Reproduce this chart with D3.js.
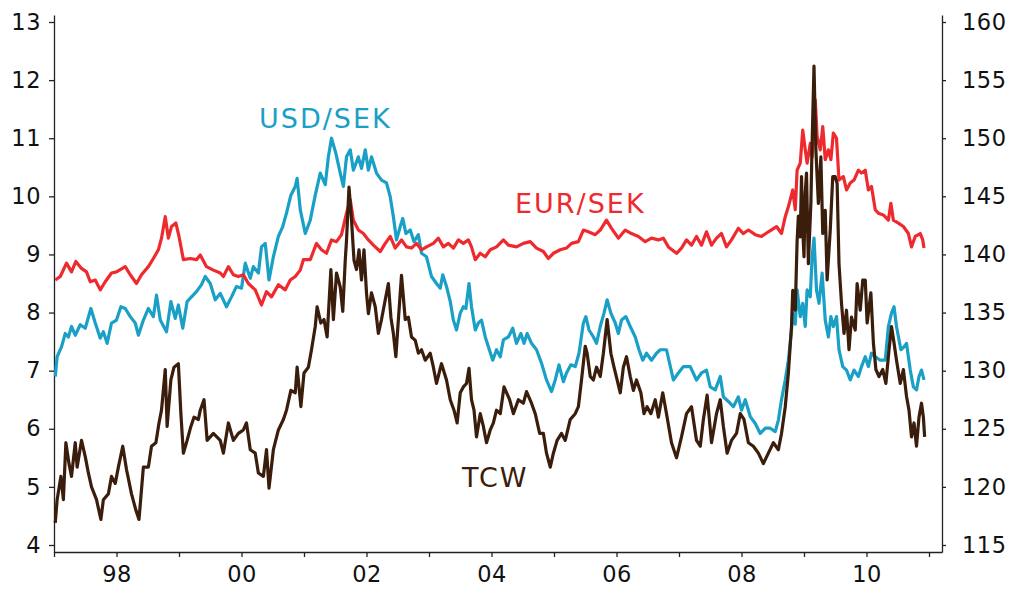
<!DOCTYPE html>
<html>

<head>
  <meta charset="utf-8">
  <title>sek-chart</title>
  <style>
    * {
      padding: 0;
      margin: 0;
    }

    body {
      background: #fff;
    }

    svg text {
      font-family: "DejaVu Sans", sans-serif;
    }

    .axis text {
      font-size: 22.5px;
      letter-spacing: 0.5px;
      fill: #111;
    }

    .axis path,
    .axis line {
      stroke: #222;
      stroke-width: 1.3;
    }

    .series {
      fill: none;
      stroke-width: 3.2;
      stroke-linejoin: round;
    }
  </style>
</head>

<body>
  <svg id="svg"></svg>
  <script src="https://cdnjs.cloudflare.com/ajax/libs/d3/7.8.5/d3.min.js"></script>
  <script>
    // [decimal year, value]  -- USD/SEK and EUR/SEK on left axis, TCW on right axis
    const eurSek = [[1997.02,8.56],[1997.10,8.62],[1997.20,8.85],[1997.28,8.70],[1997.35,8.88],[1997.44,8.76],[1997.52,8.70],[1997.58,8.53],[1997.66,8.56],[1997.74,8.39],[1997.82,8.53],[1997.92,8.68],[1998.00,8.70],[1998.14,8.79],[1998.22,8.65],[1998.32,8.50],[1998.40,8.65],[1998.51,8.79],[1998.59,8.93],[1998.67,9.08],[1998.72,9.28],[1998.78,9.65],[1998.83,9.28],[1998.88,9.48],[1998.95,9.54],[1999.00,9.31],[1999.07,8.91],[1999.18,8.93],[1999.28,8.91],[1999.34,8.99],[1999.44,8.79],[1999.55,8.73],[1999.66,8.68],[1999.71,8.62],[1999.79,8.79],[1999.87,8.65],[1999.95,8.62],[2000.03,8.65],[2000.11,8.50],[2000.22,8.39],[2000.32,8.13],[2000.40,8.36],[2000.48,8.27],[2000.59,8.48],[2000.70,8.39],[2000.78,8.56],[2000.86,8.62],[2000.94,8.73],[2000.99,8.91],[2001.10,8.91],[2001.20,9.19],[2001.28,9.08],[2001.36,9.02],[2001.44,9.25],[2001.52,9.22],[2001.60,9.34],[2001.68,9.71],[2001.74,9.94],[2001.79,9.59],[2001.87,9.42],[2001.95,9.36],[2002.03,9.25],[2002.11,9.16],[2002.22,9.05],[2002.30,9.19],[2002.38,9.31],[2002.46,9.11],[2002.56,9.25],[2002.64,9.13],[2002.72,9.11],[2002.80,9.19],[2002.88,9.08],[2002.96,9.13],[2003.07,9.19],[2003.15,9.28],[2003.23,9.13],[2003.31,9.19],[2003.39,9.11],[2003.47,9.25],[2003.55,9.19],[2003.63,9.25],[2003.68,9.13],[2003.74,8.91],[2003.82,9.02],[2003.90,8.96],[2003.98,9.08],[2004.08,9.13],[2004.19,9.25],[2004.27,9.16],[2004.40,9.13],[2004.51,9.19],[2004.62,9.22],[2004.72,9.11],[2004.83,9.05],[2004.91,8.93],[2004.99,9.02],[2005.10,9.08],[2005.20,9.11],[2005.28,9.19],[2005.39,9.22],[2005.47,9.42],[2005.55,9.39],[2005.66,9.34],[2005.74,9.42],[2005.84,9.59],[2005.92,9.45],[2006.03,9.28],[2006.14,9.42],[2006.24,9.36],[2006.35,9.31],[2006.46,9.22],[2006.56,9.28],[2006.67,9.25],[2006.75,9.28],[2006.83,9.13],[2006.96,9.02],[2007.04,9.11],[2007.12,9.25],[2007.20,9.16],[2007.28,9.31],[2007.36,9.16],[2007.44,9.39],[2007.52,9.16],[2007.60,9.28],[2007.68,9.36],[2007.76,9.13],[2007.84,9.25],[2007.95,9.45],[2008.03,9.36],[2008.11,9.42],[2008.22,9.34],[2008.32,9.31],[2008.43,9.39],[2008.56,9.48],[2008.64,9.36],[2008.70,9.65],[2008.75,9.82],[2008.82,10.11],[2008.86,9.77],[2008.89,10.45],[2008.94,10.57],[2008.98,11.14],[2009.02,10.80],[2009.05,10.57],[2009.10,10.91],[2009.13,10.68],[2009.18,11.66],[2009.21,11.03],[2009.26,10.80],[2009.30,11.20],[2009.34,10.63],[2009.39,10.80],[2009.43,10.63],[2009.47,11.09],[2009.52,11.00],[2009.56,10.28],[2009.63,10.34],[2009.68,10.11],[2009.74,10.23],[2009.80,10.28],[2009.87,10.45],[2009.92,10.40],[2009.98,10.45],[2010.03,10.11],[2010.08,10.17],[2010.14,9.77],[2010.19,9.71],[2010.27,9.68],[2010.35,9.59],[2010.39,9.88],[2010.43,9.59],[2010.51,9.54],[2010.59,9.48],[2010.67,9.36],[2010.72,9.13],[2010.78,9.31],[2010.86,9.36],[2010.90,9.25],[2010.92,9.11]];

    const usdSek = [[1997.02,6.90],[1997.05,7.24],[1997.12,7.41],[1997.18,7.64],[1997.23,7.58],[1997.28,7.76],[1997.34,7.61],[1997.42,7.79],[1997.50,7.73],[1997.59,8.07],[1997.66,7.82],[1997.74,7.56],[1997.79,7.67],[1997.85,7.47],[1997.92,7.82],[1998.00,7.87],[1998.07,8.10],[1998.14,8.07],[1998.22,7.93],[1998.30,7.82],[1998.35,7.61],[1998.43,7.87],[1998.51,8.07],[1998.59,7.93],[1998.64,8.30],[1998.70,7.87],[1998.80,7.67],[1998.87,8.19],[1998.94,7.90],[1998.99,8.13],[1999.06,7.73],[1999.13,8.19],[1999.20,8.27],[1999.28,8.36],[1999.36,8.48],[1999.42,8.62],[1999.50,8.50],[1999.58,8.22],[1999.66,8.33],[1999.76,8.10],[1999.84,8.27],[1999.92,8.45],[2000.00,8.42],[2000.06,8.85],[2000.14,8.59],[2000.19,8.79],[2000.27,8.68],[2000.32,9.13],[2000.38,9.19],[2000.44,8.56],[2000.51,8.96],[2000.59,9.31],[2000.66,9.48],[2000.72,9.71],[2000.79,10.02],[2000.86,10.17],[2000.89,10.31],[2000.94,9.77],[2001.02,9.36],[2001.10,9.59],[2001.18,10.02],[2001.26,10.40],[2001.34,10.20],[2001.39,10.68],[2001.44,11.00],[2001.51,10.74],[2001.58,10.40],[2001.63,10.17],[2001.68,10.68],[2001.74,10.80],[2001.79,10.45],[2001.87,10.68],[2001.92,10.48],[2001.98,10.80],[2002.03,10.45],[2002.08,10.68],[2002.16,10.40],[2002.24,10.28],[2002.32,10.23],[2002.38,9.99],[2002.43,9.65],[2002.48,9.25],[2002.54,9.48],[2002.58,9.62],[2002.63,9.36],[2002.70,9.42],[2002.76,9.22],[2002.83,9.34],[2002.88,9.02],[2002.96,8.96],[2003.04,8.62],[2003.12,8.50],[2003.18,8.42],[2003.22,8.65],[2003.28,8.45],[2003.34,8.19],[2003.39,7.87],[2003.44,7.70],[2003.50,7.99],[2003.55,8.10],[2003.59,8.07],[2003.64,8.50],[2003.68,8.10],[2003.74,7.70],[2003.79,7.82],[2003.84,7.87],[2003.90,7.58],[2003.95,7.41],[2004.02,7.18],[2004.08,7.36],[2004.14,7.24],[2004.19,7.53],[2004.27,7.58],[2004.34,7.73],[2004.40,7.47],[2004.47,7.64],[2004.52,7.47],[2004.57,7.64],[2004.64,7.47],[2004.72,7.36],[2004.80,7.13],[2004.88,6.84],[2004.96,6.64],[2005.02,6.84],[2005.08,7.10],[2005.15,6.81],[2005.20,6.96],[2005.27,7.10],[2005.34,7.07],[2005.40,7.30],[2005.47,7.82],[2005.51,7.93],[2005.56,7.70],[2005.63,7.58],[2005.68,7.47],[2005.74,7.76],[2005.80,7.99],[2005.85,8.22],[2005.91,7.99],[2005.98,7.82],[2006.03,7.64],[2006.08,7.87],[2006.15,7.93],[2006.22,7.76],[2006.30,7.58],[2006.36,7.36],[2006.42,7.18],[2006.48,7.30],[2006.56,7.18],[2006.64,7.30],[2006.70,7.36],[2006.80,7.36],[2006.91,6.84],[2006.99,6.96],[2007.07,7.07],[2007.18,7.07],[2007.28,6.84],[2007.36,6.96],[2007.44,7.01],[2007.50,6.72],[2007.58,6.67],[2007.66,6.90],[2007.71,6.55],[2007.79,6.47],[2007.87,6.38],[2007.95,6.55],[2008.00,6.32],[2008.06,6.50],[2008.14,6.21],[2008.22,6.09],[2008.30,5.92],[2008.38,6.01],[2008.46,6.01],[2008.54,5.95],[2008.59,6.15],[2008.64,6.50],[2008.70,6.84],[2008.75,7.18],[2008.80,7.70],[2008.82,7.99],[2008.86,7.80],[2008.89,8.39],[2008.94,7.93],[2008.98,8.16],[2009.02,7.76],[2009.05,8.39],[2009.10,8.27],[2009.13,8.96],[2009.16,9.28],[2009.20,8.39],[2009.24,8.16],[2009.29,8.68],[2009.34,7.87],[2009.39,7.58],[2009.43,7.93],[2009.47,7.76],[2009.52,7.93],[2009.56,7.36],[2009.62,7.07],[2009.68,7.01],[2009.74,6.84],[2009.80,7.01],[2009.87,6.90],[2009.92,7.07],[2009.98,7.24],[2010.03,7.07],[2010.08,7.30],[2010.14,7.24],[2010.22,7.18],[2010.30,7.18],[2010.35,7.76],[2010.40,7.99],[2010.44,8.10],[2010.48,7.76],[2010.55,7.36],[2010.60,7.41],[2010.64,7.47],[2010.70,7.01],[2010.75,6.72],[2010.80,6.67],[2010.84,6.90],[2010.88,7.01],[2010.92,6.84]];

    const tcw = [[1997.02,116.9],[1997.05,118.9],[1997.11,120.9],[1997.15,118.9],[1997.19,123.8],[1997.24,122.0],[1997.28,120.9],[1997.34,123.8],[1997.37,121.7],[1997.44,124.0],[1997.50,122.6],[1997.55,121.2],[1997.60,120.0],[1997.68,118.9],[1997.75,117.2],[1997.79,118.9],[1997.87,119.4],[1997.92,120.9],[1997.98,120.3],[1998.03,121.7],[1998.10,123.5],[1998.16,121.5],[1998.24,119.4],[1998.31,118.0],[1998.36,117.2],[1998.43,121.7],[1998.51,121.7],[1998.56,123.5],[1998.63,123.8],[1998.68,125.5],[1998.72,126.6],[1998.78,130.1],[1998.81,125.2],[1998.87,129.2],[1998.92,130.3],[1998.99,130.6],[1999.03,126.3],[1999.07,122.9],[1999.13,124.0],[1999.19,125.2],[1999.24,126.0],[1999.31,125.8],[1999.34,126.6],[1999.40,127.5],[1999.45,124.0],[1999.55,124.6],[1999.66,124.0],[1999.71,122.9],[1999.79,125.5],[1999.87,124.0],[1999.95,124.6],[2000.03,124.9],[2000.08,125.5],[2000.14,123.2],[2000.22,122.9],[2000.27,121.2],[2000.35,120.9],[2000.40,123.2],[2000.44,119.9],[2000.51,123.2],[2000.59,124.9],[2000.67,125.8],[2000.72,126.6],[2000.79,128.3],[2000.86,128.1],[2000.89,130.3],[2000.95,126.9],[2001.00,129.8],[2001.07,130.3],[2001.12,131.8],[2001.18,133.8],[2001.21,135.5],[2001.27,134.1],[2001.32,134.4],[2001.37,132.9],[2001.43,138.7],[2001.47,134.4],[2001.52,138.4],[2001.58,137.2],[2001.62,135.1],[2001.66,139.5],[2001.68,141.2],[2001.72,145.8],[2001.76,143.0],[2001.80,139.5],[2001.84,138.7],[2001.88,140.4],[2001.92,137.8],[2001.96,140.4],[2002.00,136.7],[2002.03,134.9],[2002.08,136.7],[2002.14,135.5],[2002.19,133.2],[2002.24,134.4],[2002.30,136.1],[2002.35,137.5],[2002.39,134.6],[2002.43,133.2],[2002.47,131.2],[2002.51,134.4],[2002.56,138.2],[2002.62,134.4],[2002.67,134.6],[2002.72,132.9],[2002.78,132.6],[2002.83,131.5],[2002.88,131.8],[2002.94,130.9],[2003.02,131.5],[2003.07,130.3],[2003.12,128.9],[2003.20,130.6],[2003.28,129.2],[2003.34,127.5],[2003.40,126.6],[2003.45,125.5],[2003.50,128.1],[2003.55,128.6],[2003.60,128.9],[2003.64,130.2],[2003.68,127.5],[2003.72,126.6],[2003.76,124.3],[2003.82,126.3],[2003.87,125.2],[2003.92,123.8],[2003.98,124.9],[2004.03,125.5],[2004.08,126.6],[2004.14,126.3],[2004.20,128.6],[2004.29,127.5],[2004.35,126.3],[2004.43,127.5],[2004.51,127.2],[2004.56,128.2],[2004.64,127.2],[2004.70,126.3],[2004.77,124.6],[2004.83,124.6],[2004.88,122.9],[2004.94,121.7],[2004.99,122.9],[2005.05,124.0],[2005.12,124.6],[2005.18,124.0],[2005.26,125.8],[2005.34,126.3],[2005.39,126.9],[2005.44,129.2],[2005.50,132.1],[2005.53,131.5],[2005.58,129.5],[2005.63,129.2],[2005.68,130.3],[2005.74,129.5],[2005.79,131.5],[2005.85,134.4],[2005.91,131.5],[2005.96,130.3],[2006.01,129.2],[2006.06,128.1],[2006.11,130.3],[2006.16,131.2],[2006.22,129.5],[2006.27,128.3],[2006.32,129.2],[2006.39,128.1],[2006.44,126.3],[2006.49,126.9],[2006.55,126.3],[2006.62,127.5],[2006.67,126.0],[2006.74,128.1],[2006.80,126.3],[2006.88,123.8],[2006.96,122.5],[2007.04,124.3],[2007.12,126.3],[2007.20,126.9],[2007.28,124.0],[2007.34,123.5],[2007.39,125.8],[2007.45,127.9],[2007.52,123.8],[2007.60,126.3],[2007.66,127.5],[2007.71,125.2],[2007.77,122.9],[2007.84,124.0],[2007.92,124.6],[2007.98,126.3],[2008.04,125.8],[2008.11,123.8],[2008.19,123.5],[2008.27,122.9],[2008.35,122.0],[2008.43,122.9],[2008.51,123.8],[2008.59,123.2],[2008.64,124.6],[2008.70,126.9],[2008.75,129.8],[2008.80,133.8],[2008.82,136.9],[2008.86,135.2],[2008.88,139.2],[2008.89,141.2],[2008.91,143.3],[2008.94,141.5],[2008.96,146.7],[2008.98,142.1],[2009.00,139.8],[2009.02,145.3],[2009.04,147.0],[2009.07,139.2],[2009.11,144.4],[2009.13,149.6],[2009.16,156.2],[2009.19,149.0],[2009.23,144.4],[2009.27,148.4],[2009.30,141.8],[2009.34,143.8],[2009.37,137.8],[2009.42,142.1],[2009.46,146.7],[2009.50,146.7],[2009.53,146.1],[2009.56,139.2],[2009.60,135.8],[2009.64,133.2],[2009.68,135.2],[2009.72,131.8],[2009.76,134.6],[2009.82,133.5],[2009.85,137.5],[2009.90,135.2],[2009.94,137.8],[2009.98,137.8],[2010.01,134.1],[2010.07,136.7],[2010.11,132.4],[2010.15,130.1],[2010.20,129.5],[2010.26,130.1],[2010.31,128.9],[2010.36,131.8],[2010.40,133.8],[2010.44,132.4],[2010.48,130.9],[2010.54,128.9],[2010.59,130.1],[2010.64,127.8],[2010.68,126.6],[2010.72,124.3],[2010.76,125.5],[2010.80,123.5],[2010.84,126.0],[2010.88,127.2],[2010.91,126.0],[2010.93,124.3]];

    const years = d3.range(1997, 2012);
    const yearLabels = [1998, 2000, 2002, 2004, 2006, 2008, 2010];
    const leftTicks = d3.range(4, 14);
    const rightTicks = d3.range(115, 161, 5);

    const dimension = {
      width: 1013,
      height: 594,
      margin: { top: 15, right: 71, bottom: 42, left: 54 }
    }

    const svg = d3.select('#svg').attr('width', dimension.width).attr('height', dimension.height);

    const x0 = dimension.margin.left;
    const x1 = dimension.width - dimension.margin.right;
    const yBottom = dimension.height - dimension.margin.bottom;
    const yTop = dimension.margin.top;

    // left: 4 at 545, 13 at 22 -> axis lines run 7px beyond
    const pad = 7 / (523 / 9);
    const xScale = d3.scaleLinear().domain([1997, 1997 + (x1 - x0) / 62.5]).range([x0, x1]);
    const yLeft = d3.scaleLinear().domain([4 - pad, 13 + pad]).range([yBottom, yTop]);
    const yRight = d3.scaleLinear().domain([115 - pad * 5, 160 + pad * 5]).range([yBottom, yTop]);

    const xAxis = d3.axisBottom(xScale)
      .tickValues(years)
      .tickSize(5)
      .tickSizeOuter(0)
      .tickPadding(9)
      .tickFormat(d => yearLabels.includes(d) ? String(d).slice(2) : '');

    svg.append('g')
      .attr('class', 'axis')
      .attr('transform', `translate(0, ${yBottom})`)
      .call(xAxis);

    svg.append('g')
      .attr('class', 'axis')
      .attr('transform', `translate(${x0}, 0)`)
      .call(d3.axisLeft(yLeft).tickValues(leftTicks).tickSize(5).tickSizeOuter(0).tickPadding(8));

    svg.append('g')
      .attr('class', 'axis')
      .attr('transform', `translate(${x1}, 0)`)
      .call(d3.axisRight(yRight).tickValues(rightTicks).tickSize(4).tickSizeOuter(0).tickPadding(16));

    const lineL = d3.line().x(d => xScale(d[0])).y(d => yLeft(d[1]));
    const lineR = d3.line().x(d => xScale(d[0])).y(d => yRight(d[1]));

    svg.append('path').datum(usdSek).attr('class', 'series').attr('stroke', '#1aa0c6').attr('d', lineL);
    svg.append('path').datum(eurSek).attr('class', 'series').attr('stroke', '#ee2a2e').attr('d', lineL);
    svg.append('path').datum(tcw).attr('class', 'series').attr('stroke', '#3b1d0c').attr('d', lineR);

    const labels = [
      { text: 'USD/SEK', x: 259, y: 128, color: '#1aa0c6' },
      { text: 'EUR/SEK', x: 515, y: 213, color: '#ee2a2e' },
      { text: 'TCW', x: 462, y: 487, color: '#3b1d0c' }
    ];
    svg.selectAll('.lbl')
      .data(labels)
      .enter()
      .append('text')
      .attr('class', 'lbl')
      .attr('x', d => d.x)
      .attr('y', d => d.y)
      .attr('fill', d => d.color)
      .style('font-size', '27px')
      .style('letter-spacing', '2px')
      .text(d => d.text);
  </script>
</body>

</html>
